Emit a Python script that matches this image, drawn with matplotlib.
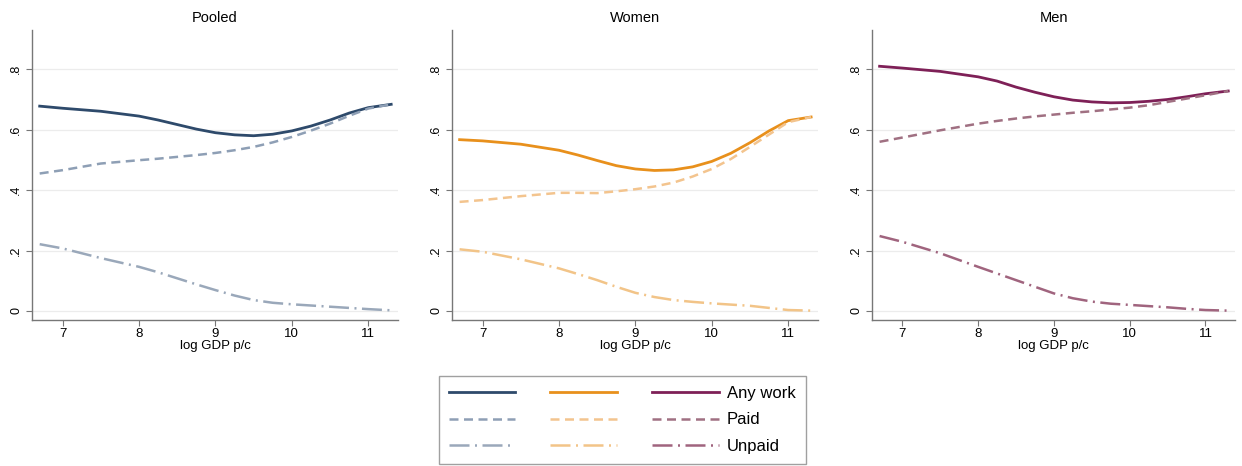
import matplotlib
matplotlib.use("Agg")
import matplotlib.pyplot as plt

plt.rcParams["font.family"] = ["Liberation Sans", "DejaVu Sans"]

# log GDP per capita grid at which the smoothed shares were read
gdp = [6.7, 7.0, 7.5, 8.0, 8.25, 8.5, 8.75, 9.0, 9.25, 9.5, 9.75,
       10.0, 10.25, 10.5, 10.75, 11.0, 11.3]

pooled_any = [0.678, 0.671, 0.661, 0.645, 0.632, 0.617, 0.602, 0.590, 0.583, 0.580, 0.585,
              0.596, 0.612, 0.632, 0.655, 0.673, 0.684]
pooled_paid = [0.455, 0.466, 0.488, 0.499, 0.504, 0.510, 0.516, 0.523, 0.532, 0.543, 0.558,
               0.576, 0.597, 0.620, 0.646, 0.670, 0.684]
pooled_unpaid = [0.221, 0.207, 0.175, 0.146, 0.128, 0.108, 0.088, 0.069, 0.051, 0.036, 0.027,
                 0.022, 0.018, 0.014, 0.010, 0.006, 0.002]

women_any = [0.567, 0.563, 0.552, 0.532, 0.516, 0.498, 0.481, 0.470, 0.465, 0.467, 0.477,
             0.495, 0.522, 0.557, 0.596, 0.630, 0.642]
women_paid = [0.361, 0.367, 0.380, 0.391, 0.391, 0.390, 0.396, 0.403, 0.412, 0.425, 0.445,
              0.470, 0.503, 0.543, 0.584, 0.625, 0.642]
women_unpaid = [0.204, 0.196, 0.171, 0.141, 0.122, 0.102, 0.080, 0.060, 0.046, 0.036, 0.030,
                0.025, 0.021, 0.017, 0.010, 0.003, 0.001]

men_any = [0.810, 0.804, 0.793, 0.775, 0.761, 0.741, 0.724, 0.709, 0.698, 0.692, 0.689,
           0.690, 0.694, 0.700, 0.709, 0.719, 0.728]
men_paid = [0.560, 0.574, 0.598, 0.620, 0.629, 0.637, 0.644, 0.650, 0.656, 0.661, 0.667,
            0.673, 0.681, 0.692, 0.703, 0.714, 0.728]
men_unpaid = [0.248, 0.229, 0.191, 0.146, 0.124, 0.102, 0.080, 0.058, 0.042, 0.031, 0.024,
              0.020, 0.016, 0.012, 0.007, 0.003, 0.001]

panel_titles = ["Pooled", "Women", "Men"]
series_labels = ["Any work", "Paid", "Unpaid"]
yticks = [0, 0.2, 0.4, 0.6, 0.8]
ytick_labels = ["0", ".2", ".4", ".6", ".8"]
xticks = [7, 8, 9, 10, 11]

panels = [
    (pooled_any, pooled_paid, pooled_unpaid),
    (women_any, women_paid, women_unpaid),
    (men_any, men_paid, men_unpaid),
]
colors = [
    ("#2e4a6b", "#8e9fb5", "#9aa8ba"),
    ("#e8901c", "#f3c48e", "#f2c488"),
    ("#7e2057", "#a07082", "#a0647e"),
]
styles = ["-", (0, (3.6, 2.2)), (0, (8, 2.2, 0.8, 2.2))]
widths = [2.0, 1.8, 1.8]

fig = plt.figure(figsize=(12.42, 4.66), dpi=100)
lefts = [0.0258, 0.3639, 0.7021]
axw = [0.2947, 0.2947, 0.2923]

handles = []
for i, (vals, cols) in enumerate(zip(panels, colors)):
    ax = fig.add_axes([lefts[i], 0.3133, axw[i], 0.6223])
    for v, c, ls, lw in zip(vals, cols, styles, widths):
        (ln,) = ax.plot(gdp, v, color=c, linestyle=ls, linewidth=lw)
        handles.append(ln)
    ax.set_xlim(6.6, 11.39)
    ax.set_ylim(-0.03, 0.93)
    ax.set_yticks(yticks)
    ax.set_yticklabels(ytick_labels, rotation=90, va="center", fontsize=9)
    ax.set_xticks(xticks)
    ax.tick_params(axis="x", labelsize=9.5, length=4, color="#777777", pad=2)
    ax.tick_params(axis="y", length=4, color="#777777", pad=3)
    ax.grid(axis="y", color="#ececec", linewidth=0.9)
    ax.set_axisbelow(True)
    for s in ["top", "right"]:
        ax.spines[s].set_visible(False)
    for s in ["left", "bottom"]:
        ax.spines[s].set_color("#777777")
        ax.spines[s].set_linewidth(1.0)
    ax.set_xlabel("log GDP p/c", fontsize=9.5, labelpad=0)
    ax.set_title(panel_titles[i], fontsize=10.5, pad=6)

labels = [""] * 6 + series_labels
leg = fig.legend(
    handles, labels, ncol=3, loc="center", bbox_to_anchor=(0.501, 0.099),
    fontsize=12, handlelength=4.0, handletextpad=0.5, columnspacing=1.6,
    labelspacing=0.7, frameon=True, fancybox=False, borderpad=0.6,
)
leg.get_frame().set_edgecolor("#888888")
leg.get_frame().set_linewidth(1.0)

fig.savefig("out.png", dpi=100)
